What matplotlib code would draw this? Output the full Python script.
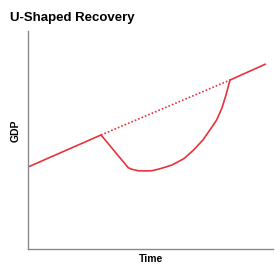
import matplotlib
matplotlib.use("Agg")
import matplotlib.pyplot as plt

# trend before the shock and after the recovery
pre_x = [0.0, 29.8]
pre_y = [37.6, 52.3]
post_x = [82.45, 97.1]
post_y = [77.5, 84.9]

# what GDP would have been without the shock
trend_x = [29.8, 82.45]
trend_y = [52.3, 77.5]

# drop and U-shaped recovery
dip_x = [29.8, 40.9, 42.3, 45.0, 47.8, 50.5, 53.2, 55.9, 58.7, 61.4,
         63.7, 67.5, 71.4, 75.1, 77.0, 79.1, 80.4, 81.5, 82.45]
dip_y = [52.3, 37.3, 36.6, 35.9, 35.8, 35.9, 36.6, 37.5, 38.5, 40.1,
         41.5, 45.3, 50.0, 56.0, 59.2, 64.5, 69.1, 73.5, 77.5]

RED = "#e8333d"
GREY = "#8a8a8a"

plt.rcParams["font.family"] = ["Liberation Sans", "DejaVu Sans"]

fig = plt.figure(figsize=(2.75, 2.64), dpi=100)
ax = fig.add_axes([28 / 275, 15 / 264, 245 / 275, 218 / 264])

ax.plot(pre_x, pre_y, color=RED, lw=1.2, solid_capstyle="butt")
ax.plot(post_x, post_y, color=RED, lw=1.2, solid_capstyle="butt")
ax.plot(dip_x, dip_y, color=RED, lw=1.2, solid_joinstyle="round")
ax.plot(trend_x, trend_y, color=RED, lw=1.2, linestyle=(0, (1, 1.2)))

ax.set_xlim(0, 100)
ax.set_ylim(0, 100)
ax.set_xticks([])
ax.set_yticks([])
for side in ("top", "right"):
    ax.spines[side].set_visible(False)
for side in ("left", "bottom"):
    ax.spines[side].set_color(GREY)
    ax.spines[side].set_linewidth(1.0)

fig.text(151 / 275, 1 - 259.5 / 264, "Time", fontsize=7.5,
         fontweight="bold", ha="center", va="center")
fig.text(16 / 275, 1 - 130.5 / 264, "GDP", fontsize=7.5, rotation=90,
         fontweight="bold", ha="center", va="center")
fig.text(10.5 / 275, 1 - 18 / 264, "U-Shaped Recovery", fontsize=9.5,
         fontweight="bold", ha="left", va="center")

fig.savefig("out.png", dpi=100)
